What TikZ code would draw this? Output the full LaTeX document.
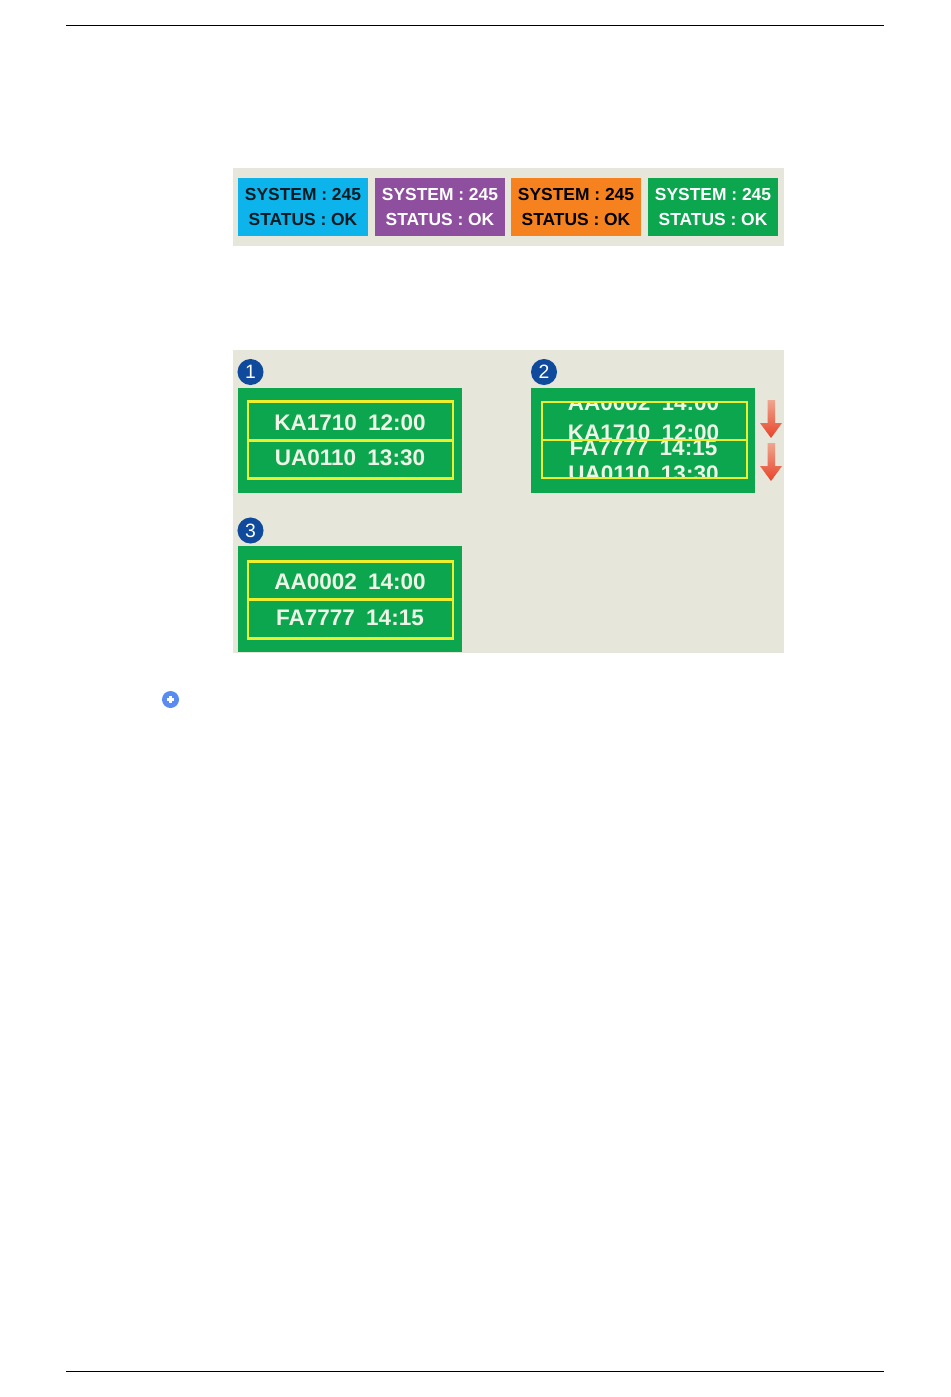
\documentclass[tikz,border=0pt]{standalone}
\usepackage{fontspec}
\setmainfont{Liberation Sans}
\usetikzlibrary{positioning}
\definecolor{bandgray}{HTML}{E6E6DA}
\definecolor{sysblue}{HTML}{0DB4EC}
\definecolor{syspurple}{HTML}{8F4F9F}
\definecolor{sysorange}{HTML}{F6821F}
\definecolor{sysgreen}{HTML}{0BA64E}
\definecolor{rowyellow}{HTML}{EDEE2C}
\definecolor{badgeblue}{HTML}{0F4A9C}
\definecolor{plusblue}{HTML}{5A8CF0}
\definecolor{arrowred}{HTML}{E8432A}
\definecolor{arrowpale}{HTML}{EFA58F}
\definecolor{paneltext}{HTML}{EFF5E6}
\tikzset{
  statusbox/.style={minimum width=1.3cm,minimum height=.58cm,inner sep=0pt,align=center,font=\fontsize{4.95}{6.85}\selectfont\bfseries},
  panelbox/.style={fill=sysgreen,minimum width=2.24cm,minimum height=1.05cm,inner sep=0pt},
  rowbox/.style={draw=rowyellow,line width=.8pt,minimum width=2.05cm,minimum height=.385cm,inner sep=0pt},
  rowtext/.style={inner sep=0pt,text=paneltext,font=\fontsize{6.4}{8}\selectfont\bfseries},
  badge/.style={circle,fill=badgeblue,minimum size=.26cm,inner sep=0pt,text=white,font=\fontsize{5.5}{7}\selectfont}
}
\begin{document}
\begin{tikzpicture}[x=.01cm,y=-.01cm]
\useasboundingbox (0,0) rectangle (950,1397);
\fill[white] (0,0) rectangle (950,1397);
\draw[line width=.25pt] (66,25) -- (884,25);
\draw[line width=.25pt] (66,1371) -- (884,1371);

\fill[bandgray] (233,168) rectangle (784,246);
\fill[bandgray] (233,350) rectangle (784,653);

\node[statusbox,fill=sysblue,text=black!85!sysblue] (s1) at (303,207) {SYSTEM : 245\\STATUS : OK};
\node[statusbox,fill=syspurple,text=white] (s2) at (440,207) {SYSTEM : 245\\STATUS : OK};
\node[statusbox,fill=sysorange,text=black] (s3) at (576,207) {SYSTEM : 245\\STATUS : OK};
\node[statusbox,fill=sysgreen,text=white] (s4) at (713,207) {SYSTEM : 245\\STATUS : OK};

\node[panelbox] (p1) at (350,440.5) {};
\node[panelbox] (p2) at (643,440.5) {};
\node[panelbox] (p3) at (350,599) {};

\node[badge] (b1) at (250.5,372) {1};
\node[badge] (b2) at (544,372) {2};
\node[badge] (b3) at (250.5,530.5) {3};

\node[rowbox] (r1) at (350.5,421) {};
\node[rowbox] (r2) at (350.5,459.5) {};
\node[rowbox] (r5) at (350.5,580.5) {};
\node[rowbox] (r6) at (350.5,619) {};
\node[rowtext] (l1) at (350,423) {KA1710\enspace 12:00};
\node[rowtext] (l2) at (350,458) {UA0110\enspace 13:30};
\node[rowtext] (l5) at (350,582) {AA0002\enspace 14:00};
\node[rowtext] (l6) at (350,618) {FA7777\enspace 14:15};

% rolling text in the second panel
\begin{scope}
\clip (542,402) rectangle (747,478);
\node[rowtext] (t1) at (643.5,403) {AA0002\enspace 14:00};
\node[rowtext] (t2) at (643.5,433) {KA1710\enspace 12:00};
\node[rowtext] (t3) at (643.5,448) {FA7777\enspace 14:15};
\node[rowtext] (t4) at (643.5,474) {UA0110\enspace 13:30};
\end{scope}
\draw[rowyellow,line width=.7pt] (542,402) rectangle (747,478);
\draw[rowyellow,line width=.7pt] (542,440) -- (747,440);

\foreach \y in {400,443} {
\shade[top color=arrowpale,middle color=arrowred!85!arrowpale,bottom color=arrowred,draw=none]
  (767.5,\y) -- (775,\y) -- (775,\y+23) -- (782,\y+23) -- (771,\y+38) -- (760,\y+23) -- (767.5,\y+23) -- cycle;
}

\node[circle,fill=plusblue,minimum size=.17cm,inner sep=0pt] (plus) at (170.5,699.5) {};
\draw[white,line width=.8pt] (167,699.5) -- (174,699.5);
\draw[white,line width=.8pt] (170.5,696) -- (170.5,703);
\end{tikzpicture}
\end{document}
